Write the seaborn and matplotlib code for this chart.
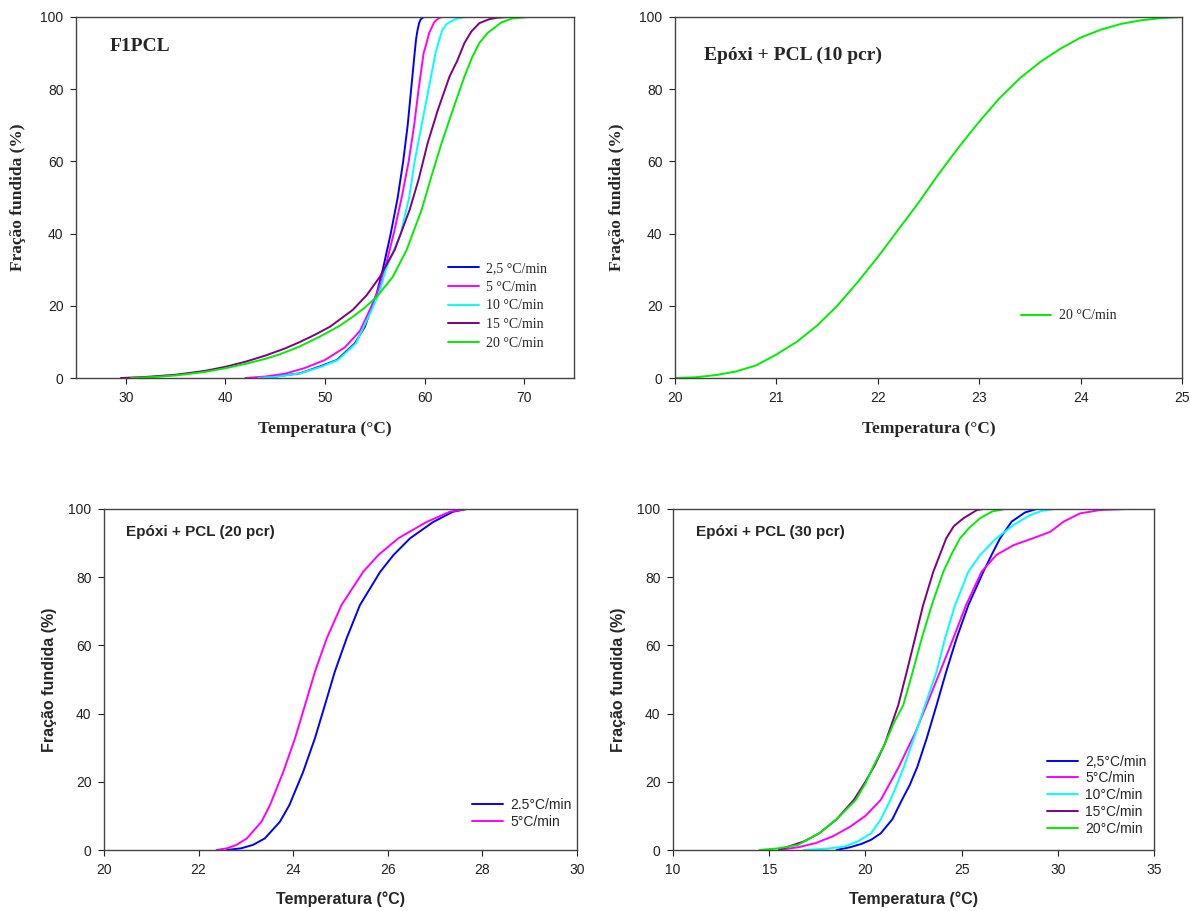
import pandas as pd
import matplotlib.pyplot as plt
import seaborn as sns

# ---------------- F1PCL (top left) ----------------
f1_labels = ['2,5 °C/min', '5 °C/min', '10 °C/min', '15 °C/min', '20 °C/min']
f1_t_25 = [43.0, 45.0, 47.5, 49.5, 51.2, 53.0, 54.0, 55.2, 55.8, 56.6, 57.3, 57.85, 58.3, 58.65, 59.0, 59.15, 59.3, 59.45, 59.6, 59.8, 60.0]
f1_y_25 = [0, 0.4, 1.3, 3.2, 5.0, 9.6, 14.2, 23.5, 30, 40, 50, 60, 70, 80, 90, 94, 96.5, 98.3, 99.3, 99.8, 100]
f1_t_5 = [42.0, 44.0, 46.0, 48.0, 50.0, 52.0, 53.5, 54.5, 55.3, 56.0, 56.9, 57.7, 58.4, 58.95, 59.4, 59.9, 60.2, 60.45, 60.7, 60.95, 61.2, 61.5, 61.8]
f1_y_5 = [0, 0.4, 1.2, 2.8, 5.0, 8.5, 13, 18.9, 24, 30, 40, 50, 60, 70, 80, 90, 92.8, 95.5, 97, 98.5, 99.2, 99.8, 100]
f1_t_10 = [43.3, 45.0, 47.5, 49.5, 51.3, 53.1, 54.7, 55.5, 56.1, 57.6, 58.45, 59.0, 59.7, 60.4, 61.1, 61.5, 61.8, 62.2, 62.8, 63.3, 64.2]
f1_y_10 = [0, 0.3, 1.3, 3.0, 5.0, 9.6, 18.9, 24, 30, 40, 50, 60, 70, 80, 90, 94, 96.5, 98, 99, 99.6, 100]
f1_t_15 = [29.5, 32.0, 35.0, 38.0, 40.0, 42.0, 44.0, 46.0, 47.5, 49.0, 50.5, 52.8, 54.2, 55.5, 57.0, 58.5, 59.4, 60.3, 61.3, 62.5, 63.3, 64.0, 64.7, 65.5, 66.5, 67.3, 68.5]
f1_y_15 = [0, 0.3, 0.9, 2.0, 3.1, 4.5, 6.2, 8.2, 10, 12, 14.2, 18.9, 23, 28, 35.5, 46.6, 55, 65, 74, 83.5, 88, 92.8, 96, 98.3, 99.4, 99.8, 100]
f1_t_20 = [30.5, 33.0, 35.0, 38.0, 40.0, 42.0, 44.0, 45.5, 47.5, 49.5, 51.5, 52.8, 54.0, 55.2, 56.8, 58.2, 59.7, 60.7, 61.7, 62.8, 64.0, 64.8, 65.5, 66.3, 67.7, 68.8, 70.5]
f1_y_20 = [0, 0.3, 0.7, 1.7, 2.7, 3.9, 5.3, 6.6, 8.8, 11.5, 14.5, 17, 19.5, 22.5, 28, 35.5, 46.6, 56, 65, 74, 83.5, 89, 92.8, 95.5, 98.5, 99.6, 100]

# ---------------- Epoxi + PCL (10 pcr) (top right) ----------------
p10_labels = ['20 °C/min']
p10_t_20 = [20.0, 20.2, 20.4, 20.6, 20.8, 21.0, 21.2, 21.4, 21.6, 21.8, 22.0, 22.2, 22.4, 22.6, 22.8, 23.0, 23.2, 23.4, 23.6, 23.8, 24.0, 24.2, 24.4, 24.6, 24.8, 25.0]
p10_y_20 = [0, 0.2, 0.8, 1.8, 3.5, 6.5, 10, 14.5, 20, 26.5, 33.5, 41, 48.5, 56.5, 64, 71, 77.5, 83, 87.5, 91.2, 94.3, 96.5, 98.1, 99.1, 99.7, 100]

# ---------------- Epoxi + PCL (20 pcr) (bottom left) ----------------
p20_labels = ['2.5°C/min', '5°C/min']
p20_t_25 = [22.6, 22.9, 23.15, 23.4, 23.72, 23.92, 24.21, 24.46, 24.67, 24.88, 25.13, 25.41, 25.84, 26.12, 26.47, 26.96, 27.38, 27.67]
p20_y_25 = [0, 0.5, 1.5, 3.4, 8.3, 13.2, 22.9, 32.8, 42.5, 52.3, 62.1, 71.8, 81.6, 86.5, 91.4, 96.2, 99.2, 100]
p20_t_5 = [22.38, 22.6, 22.8, 23.02, 23.33, 23.51, 23.79, 24.04, 24.25, 24.46, 24.71, 25.02, 25.48, 25.8, 26.22, 26.82, 27.31, 27.67]
p20_y_5 = [0, 0.5, 1.5, 3.4, 8.3, 13.2, 22.9, 32.8, 42.5, 52.3, 62.1, 71.8, 81.6, 86.5, 91.4, 96.2, 99.2, 100]

# ---------------- Epoxi + PCL (30 pcr) (bottom right) ----------------
p30_labels = ['2,5°C/min', '5°C/min', '10°C/min', '15°C/min', '20°C/min']
p30_t_25 = [18.5, 19.2, 19.8, 20.3, 20.8, 21.4, 21.9, 22.3, 22.7, 23.2, 23.7, 24.2, 24.74, 25.35, 26.13, 26.6, 27.0, 27.6, 28.3, 28.9]
p30_y_25 = [0, 0.8, 1.8, 3, 4.9, 9, 14.7, 19, 24.4, 33, 42.5, 52.3, 62.1, 71.8, 81.6, 87, 91.4, 96.3, 99, 100]
p30_t_5 = [15.5, 16.5, 17.4, 18.3, 19.2, 20.0, 20.8, 21.7, 22.56, 23.18, 23.88, 24.57, 25.23, 26.04, 26.8, 27.7, 28.7, 29.6, 30.3, 31.15, 32.2, 33.6]
p30_y_5 = [0, 0.8, 2, 4, 6.8, 10, 14.7, 24, 34, 42.5, 52.3, 62.1, 71.8, 81.6, 86.5, 89.4, 91.4, 93.3, 96.3, 98.7, 99.7, 100]
p30_t_10 = [16.8, 18.0, 18.9, 19.6, 20.3, 20.8, 21.3, 21.7, 22.0, 22.6, 23.1, 23.7, 24.14, 24.66, 25.35, 25.96, 26.8, 27.7, 28.55, 29.2, 29.85]
p30_y_10 = [0, 0.4, 1, 2.5, 4.9, 9, 14.7, 20, 24.4, 34, 42.5, 52.3, 62.1, 71.8, 81.6, 86.5, 91.4, 95.3, 98.2, 99.5, 100]
p30_t_15 = [15.5, 16.0, 16.8, 17.6, 18.5, 19.4, 20.0, 20.5, 21.0, 21.71, 22.15, 22.58, 23.0, 23.53, 24.2, 24.6, 25.1, 25.8, 26.13]
p30_y_15 = [0, 1, 2.5, 4.9, 9, 14.7, 20, 25, 31, 42.5, 52.3, 62.1, 71.8, 81.6, 91.4, 95, 97.3, 99.7, 100]
p30_t_20 = [14.5, 15.5, 16.5, 17.6, 18.5, 19.5, 20.0, 20.4, 21.0, 21.5, 21.97, 22.46, 22.93, 23.45, 24.05, 24.5, 24.92, 25.4, 25.96, 26.6, 27.26]
p30_y_20 = [0, 0.5, 1.5, 4.9, 9, 14.7, 19.5, 24.4, 31, 37.5, 42.5, 52.3, 62.1, 71.8, 81.6, 87, 91.4, 94.5, 97.3, 99.3, 100]

colors5 = ['#0000FF', '#FF00FF', '#00FFFF', '#800080', '#00EE00']


def make_df(labels, temps, fracs):
    rows = []
    for lab, t, f in zip(labels, temps, fracs):
        for i, (tt, ff) in enumerate(zip(t, f)):
            rows.append({'rate': lab, 'order': i, 'temp': tt, 'frac': ff})
    return pd.DataFrame(rows)


sns.set_style('ticks')
plt.rcParams['font.family'] = ['Liberation Sans', 'DejaVu Sans']

fig = plt.figure(figsize=(11.91, 9.11), dpi=100)
W, H = 1191, 911


def add_ax(x0, x1, y0, y1):
    return fig.add_axes([x0 / W, 1 - y1 / H, (x1 - x0) / W, (y1 - y0) / H])


def draw_panel(ax, df, labels, colors, xlim, xticks, title, title_xy, serif, leg_xy, leg_space):
    sns.lineplot(data=df, x='temp', y='frac', hue='rate', hue_order=labels,
                 palette=dict(zip(labels, colors)), sort=False, estimator=None,
                 units='rate', lw=1.4, legend=False, ax=ax)
    ax.set_xlim(*xlim)
    ax.set_ylim(0, 100)
    ax.set_xticks(xticks)
    ax.set_yticks([0, 20, 40, 60, 80, 100])
    ax.tick_params(direction='out', length=4, width=0.8, labelsize=10, pad=5,
                   colors='#222222', top=False, right=False)
    for s in ax.spines.values():
        s.set_visible(True)
        s.set_color('#444444')
        s.set_linewidth(1.0)
    fam = ['Liberation Serif'] if serif else ['Liberation Sans']
    lab_size = 12.5 if serif else 11.5
    ax.set_xlabel('Temperatura (°C)', family=fam, fontweight='bold', fontsize=lab_size)
    ax.set_ylabel('Fração fundida (%)', family=fam, fontweight='bold', fontsize=lab_size)
    ax.xaxis.label.set_va('center')
    ax.yaxis.label.set_va('center')
    ax.text(title_xy[0], title_xy[1], title, family=fam, fontweight='bold',
            fontsize=14 if serif else 11, ha='left', va='center', transform=ax.transData)
    handles = ax.get_lines()[:len(labels)]
    ax.legend(handles, labels, loc='upper left', bbox_to_anchor=leg_xy, frameon=False,
              borderpad=0, borderaxespad=0, handlelength=2.2, handletextpad=0.55,
              labelspacing=leg_space, prop={'family': fam, 'size': 10})


# top left
ax1 = add_ax(76, 574, 17, 378)
draw_panel(ax1, make_df(f1_labels, [f1_t_25, f1_t_5, f1_t_10, f1_t_15, f1_t_20],
                        [f1_y_25, f1_y_5, f1_y_10, f1_y_15, f1_y_20]),
           f1_labels, colors5, (25, 75), [30, 40, 50, 60, 70], 'F1PCL', (28.4, 91.7),
           True, (0.747, 0.322), 0.42)
ax1.xaxis.set_label_coords(0.5, -51 / 361)
ax1.yaxis.set_label_coords(-58 / 498, 0.5)

# top right
ax2 = add_ax(675, 1182, 17, 378)
draw_panel(ax2, make_df(p10_labels, [p10_t_20], [p10_y_20]),
           p10_labels, ['#00EE00'], (20, 25), [20, 21, 22, 23, 24, 25], 'Epóxi + PCL (10 pcr)',
           (20.29, 89.5), True, (0.682, 0.19), 0.42)
ax2.xaxis.set_label_coords(0.5, -51 / 361)
ax2.yaxis.set_label_coords(-58 / 507, 0.5)

# bottom left
ax3 = add_ax(104, 577, 509, 850)
draw_panel(ax3, make_df(p20_labels, [p20_t_25, p20_t_5], [p20_y_25, p20_y_5]),
           p20_labels, ['#0000FF', '#FF00FF'], (20, 30), [20, 22, 24, 26, 28, 30],
           'Epóxi + PCL (20 pcr)', (20.47, 93.2), False, (0.779, 0.152), 0.2)
ax3.xaxis.set_label_coords(0.5, -49 / 341)
ax3.yaxis.set_label_coords(-54 / 473, 0.5)

# bottom right
ax4 = add_ax(673, 1154, 509, 850)
draw_panel(ax4, make_df(p30_labels, [p30_t_25, p30_t_5, p30_t_10, p30_t_15, p30_t_20],
                        [p30_y_25, p30_y_5, p30_y_10, p30_y_15, p30_y_20]),
           p30_labels, colors5, (10, 35), [10, 15, 20, 25, 30, 35],
           'Epóxi + PCL (30 pcr)', (11.2, 93.2), False, (0.778, 0.28), 0.2)
ax4.xaxis.set_label_coords(0.5, -49 / 341)
ax4.yaxis.set_label_coords(-54 / 481, 0.5)

fig.savefig('out.png', dpi=100)
